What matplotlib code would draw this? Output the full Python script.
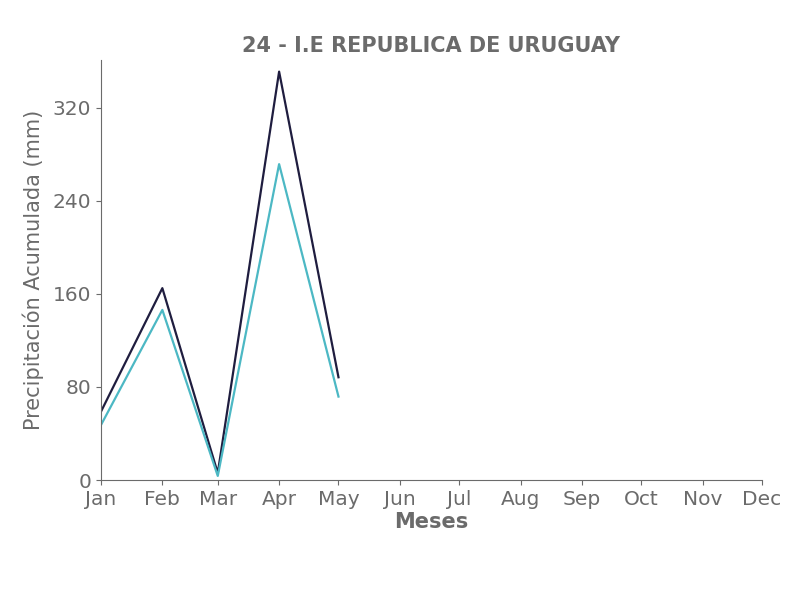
import numpy as np
import matplotlib
matplotlib.use("Agg")
import matplotlib.pyplot as plt

# datos de precipitacion acumulada por mes
meses = np.array(["2023-01-01", "2023-02-01", "2023-03-01", "2023-04-01", "2023-05-01"], dtype="datetime64[D]")
serie_oscura = [58.8, 164.9, 6.0, 351.0, 88.3]
serie_clara = [47.3, 146.2, 3.5, 271.5, 71.7]
etiquetas = ["Jan", "Feb", "Mar", "Apr", "May", "Jun", "Jul", "Aug", "Sep", "Oct", "Nov", "Dec"]
ticks_mes = np.array(["2023-%02d-01" % m for m in range(1, 13)], dtype="datetime64[D]")

gris = "#6b6b6b"

fig = plt.figure(figsize=(8.06, 6), dpi=100)
ax = fig.add_axes([101/806, 1 - 480/600, (762-101)/806, (480-60)/600])

ax.plot(meses, serie_oscura, color="#1f1d3f", linewidth=1.6)
ax.plot(meses, serie_clara, color="#4cb8c4", linewidth=1.6)

ax.set_xlim(ticks_mes[0], ticks_mes[-1])
ax.set_ylim(0, 361)
ax.set_xticks(ticks_mes)
ax.set_xticklabels(etiquetas)
ax.set_yticks([0, 80, 160, 240, 320])

for s in ["top", "right"]:
    ax.spines[s].set_visible(False)
for s in ["left", "bottom"]:
    ax.spines[s].set_color(gris)
ax.tick_params(colors=gris, labelsize=14.5)

ax.set_title("24 - I.E REPUBLICA DE URUGUAY", fontsize=15, fontweight="bold", color=gris)
ax.set_xlabel("Meses", fontsize=15, fontweight="bold", color=gris, labelpad=2)
ax.set_ylabel("Precipitación Acumulada (mm)", fontsize=15, color=gris, labelpad=6)

fig.savefig("out.png", dpi=100)
